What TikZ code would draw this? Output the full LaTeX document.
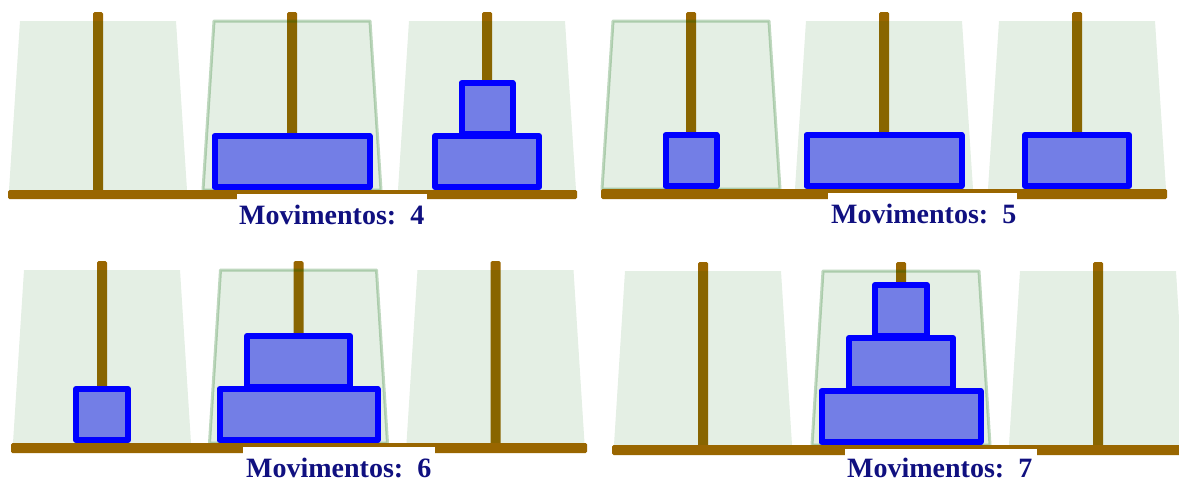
\documentclass[tikz,border=0pt]{standalone}
\usepackage{fontspec}
\setmainfont{Liberation Serif}
\definecolor{pegcol}{RGB}{153,102,0}
\definecolor{traycol}{RGB}{0,100,0}
\definecolor{diskfill}{RGB}{115,126,230}
\definecolor{diskedge}{RGB}{0,0,255}
\definecolor{labelcol}{RGB}{16,16,128}
\tikzset{
  pegbar/.style={fill=pegcol, rounded corners=1.5pt},
  tray/.style={fill=traycol, fill opacity=0.105},
  trayedge/.style={draw=traycol, draw opacity=0.25, line width=3pt, line join=round},
  disk/.style={fill=diskfill, draw=diskedge, line width=6pt, line join=round},
  countbox/.style={fill=white},
  counter/.style={text=labelcol, font=\fontsize{28}{30}\selectfont\bfseries,
    inner sep=0pt, anchor=base west}
}
% tower: peg with its translucent tray  {centre x}{peg top}{base top}
\newcommand{\hanoiTower}[3]{%
  \fill[pegbar] ({#1-5},#2) rectangle ({#1+5},{#3+2});
  \fill[tray] ({#1-78},{#2+9}) -- ({#1+78},{#2+9}) -- ({#1+89},#3) -- ({#1-89},#3) -- cycle;
}
% outline of the selected tower  {centre x}{peg top}{base top}
\newcommand{\hanoiPick}[3]{%
  \draw[trayedge] ({#1-78},{#2+9}) -- ({#1+78},{#2+9}) -- ({#1+89},#3) -- ({#1-89},#3) -- cycle;
}
% disk  {centre x}{outer bottom}{outer width}
\newcommand{\hanoiDisk}[3]{%
  \filldraw[disk] ({#1-#3/2+3},{#2-3}) rectangle ({#1+#3/2-3},{#2-54});
}
\begin{document}
\begin{tikzpicture}[x=1pt,y=-1pt]
\useasboundingbox (0,0) rectangle (1179,482);

% ---------- position after 4 moves ----------
\hanoiTower{98}{12}{190}
\hanoiTower{292}{12}{190}
\hanoiTower{487}{12}{190}
\hanoiPick{292}{12}{190}
\fill[pegbar] (8,190) rectangle (577,199);
\fill[countbox] (237,194) rectangle (427,236);
\node[counter] (countA) at (239,224) {Movimentos:~~4};
\hanoiDisk{292}{190}{161}
\hanoiDisk{487}{190}{110}
\hanoiDisk{487}{137}{57}

% ---------- position after 5 moves ----------
\hanoiTower{691}{12}{189}
\hanoiTower{884}{12}{189}
\hanoiTower{1077}{12}{189}
\hanoiPick{691}{12}{189}
\fill[pegbar] (601,189) rectangle (1167,199);
\fill[countbox] (828,193) rectangle (1017,236);
\node[counter] (countB) at (831,223) {Movimentos:~~5};
\hanoiDisk{691}{189}{57}
\hanoiDisk{884}{189}{161}
\hanoiDisk{1077}{189}{110}

% ---------- position after 6 moves ----------
\hanoiTower{102}{261}{443}
\hanoiTower{298.5}{261}{443}
\hanoiTower{495.5}{261}{443}
\hanoiPick{298.5}{261}{443}
\fill[pegbar] (11,443) rectangle (587,453);
\fill[countbox] (243,447) rectangle (435,482);
\node[counter] (countC) at (246,477) {Movimentos:~~6};
\hanoiDisk{102}{443}{58}
\hanoiDisk{298.5}{443}{164}
\hanoiDisk{298.5}{390}{109}

% ---------- position after 7 moves ----------
\hanoiTower{703}{262}{445}
\hanoiTower{901}{262}{445}
\hanoiTower{1098}{262}{445}
\hanoiPick{901}{262}{445}
\fill[pegbar] (612,445) rectangle (1185,455);
\fill[countbox] (845,449) rectangle (1037,482);
\node[counter] (countD) at (847,477) {Movimentos:~~7};
\hanoiDisk{901}{445}{165}
\hanoiDisk{901}{392}{110}
\hanoiDisk{901}{339}{58}
\end{tikzpicture}
\end{document}
